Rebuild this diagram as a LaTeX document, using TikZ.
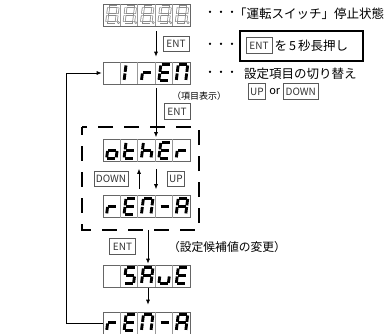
\documentclass[tikz,border=0pt]{standalone}
\usepackage{fontspec}
\setmainfont{Noto Sans CJK JP}
\usetikzlibrary{arrows.meta,positioning}

\tikzset{
  disp/.style={draw=black!60, line width=0.7pt, minimum width=87pt, minimum height=22pt, inner sep=0pt},
  cell/.style={draw=black!40, line width=0.5pt},
  seg/.style={line width=2.9pt, line cap=butt, shorten <=0.8pt, shorten >=0.8pt},
  key/.style={draw=black!65, line width=0.6pt, text=black!80, font=\fontsize{10}{10}\selectfont, inner xsep=2pt, inner ysep=0pt, minimum height=15.5pt},
  entw/.style={minimum width=26pt},
  arr/.style={-{Latex[length=5pt,width=4pt]}, line width=0.7pt},
  grp/.style={line width=2.6pt, dash pattern=on 15pt off 11pt, dash phase=7pt},
  hold/.style={draw, line width=2pt, minimum width=123pt, minimum height=30pt, inner sep=0pt},
  txt/.style={font=\fontsize{12.5}{13}\selectfont, inner sep=0pt},
  dots/.style={font=\fontsize{11}{11}\selectfont, inner sep=0pt},
  sg a/.style={insert path={(6,3) -- (15.5,3)}},
  sg b/.style={insert path={(15.5,3) -- (14.5,11)}},
  sg c/.style={insert path={(14.5,11) -- (13.5,19)}},
  sg d/.style={insert path={(4,19) -- (13.5,19)}},
  sg e/.style={insert path={(5,11) -- (4,19)}},
  sg f/.style={insert path={(6,3) -- (5,11)}},
  sg g/.style={insert path={(5,11) -- (14.5,11)}}
}

% Zeichen in Feld #2 der Anzeige #1
\newcommand\glyph[3]{\foreach \s in {#3}{\draw[seg, shift={(#1.north west)}, xshift={(#2-1)*17.4pt}, sg \s];}}

\begin{document}
\begin{tikzpicture}[x=1pt,y=-1pt]
\useasboundingbox (0,0) rectangle (387,333);

%Anzeigen
\node[disp] (top) at (146.5,15) {};
\node[disp] (ire) at (146.5,73) {};
\node[disp] (oth) at (146.5,150.5) {};
\node[disp] (rena) at (146.5,206.5) {};
\node[disp] (save) at (146.5,276) {};
\node[disp] (renb) at (146.5,323) {};

\foreach \d in {top,ire,oth,rena,save,renb}
  \foreach \i in {1,...,4}
    \draw[cell] ([xshift=\i*17.4pt]\d.north west) -- ([xshift=\i*17.4pt]\d.south west);

%leere Anzeige 8.8.8.8.8.
\foreach \i in {1,...,5}
{
  \foreach \s in {a,b,c,d,e,f,g}
    \draw[seg, draw=black!45, line width=2.8pt, shift={(top.north west)}, xshift={(\i-1)*17.4pt}, sg \s];
  \foreach \s in {a,b,c,d,e,f,g}
    \draw[seg, white, line width=1.3pt, shorten <=1.3pt, shorten >=1.3pt, shift={(top.north west)}, xshift={(\i-1)*17.4pt}, sg \s];
  \draw[black!45, line width=0.5pt, shift={(top.north west)}, xshift={(\i-1)*17.4pt}] (15.8,19) circle (1.1);
}

\glyph{ire}{2}{e,f}
\glyph{ire}{3}{e,g}
\glyph{ire}{4}{a,d,e,f,g}
\glyph{ire}{5}{a,b,c,e,f}

\glyph{oth}{1}{c,d,e,g}
\glyph{oth}{2}{d,e,f,g}
\glyph{oth}{3}{c,e,f,g}
\glyph{oth}{4}{a,d,e,f,g}
\glyph{oth}{5}{e,g}

\glyph{rena}{1}{e,g}
\glyph{rena}{2}{a,d,e,f,g}
\glyph{rena}{3}{a,b,c,e,f}
\glyph{rena}{4}{g}
\glyph{rena}{5}{a,b,c,e,f,g}

\glyph{save}{2}{a,c,d,f,g}
\glyph{save}{3}{a,b,c,e,f,g}
\glyph{save}{4}{c,d,e}
\glyph{save}{5}{a,d,e,f,g}

\glyph{renb}{1}{e,g}
\glyph{renb}{2}{a,d,e,f,g}
\glyph{renb}{3}{a,b,c,e,f}
\glyph{renb}{4}{g}
\glyph{renb}{5}{a,b,c,e,f,g}

%Gruppe
\draw[grp] (82,127) rectangle (199,230);

%Tasten und Beschriftung
\node[key, entw] (ent1) at (176,44) {ENT};
\node[key, entw] (ent2) at (177,111.5) {ENT};
\node[key] (dn1) at (111,179) {DOWN};
\node[key] (up1) at (176,179) {UP};
\node[key, entw] (ent3) at (122.5,246.5) {ENT};
\node[font=\fontsize{9}{10}\selectfont, inner sep=0pt] (lbl1) at (199,96) {（項目表示）};
\node[font=\fontsize{11.8}{12}\selectfont, inner sep=0pt] (lbl2) at (227,247) {（設定候補値の変更）};

%Pfeile
\draw[arr, shorten <=5pt, shorten >=5pt] ([xshift=9.5pt]top.south) -- ([xshift=9.5pt]ire.north);
\draw[arr, shorten <=4pt, shorten >=2pt] ([xshift=9.5pt]ire.south) -- ([xshift=9.5pt]oth.north);
\draw[arr, shorten <=7pt, shorten >=6pt] ([xshift=9.5pt]oth.south) -- ([xshift=9.5pt]rena.north);
\draw[arr, shorten <=6pt, shorten >=7pt] ([xshift=-7.5pt]rena.north) -- ([xshift=-7.5pt]oth.south);
\draw[arr, shorten <=12pt, shorten >=1pt] ([xshift=1.5pt]rena.south) -- ([xshift=1.5pt]save.north);
\draw[arr, shorten <=1pt, shorten >=7pt] ([xshift=1.5pt]save.south) -- ([xshift=1.5pt]renb.north);
\draw[arr, shorten >=1pt] (renb.west) -- ++(-36,0) |- (ire.west);

%Erklaerungen rechts
\node[dots] (dt1) at (221,14) {・・・};
\node[txt, anchor=west] (st1) at (234,14) {「運転スイッチ」停止状態};
\node[dots] (dt2) at (221,46) {・・・};
\node[hold] (hold) at (301.5,46) {};
\node[key, entw] (ent4) at (259,45.5) {ENT};
\node[txt, right=2pt of ent4] (st2) {を\,5\,秒長押し};
\node[dots] (dt3) at (221,74) {・・・};
\node[txt, anchor=west] (st3) at (244,74) {設定項目の切り替え};
\node[key] (up2) at (257,91.5) {UP};
\node[font=\fontsize{11}{11}\selectfont, inner sep=0pt, right=3pt of up2] (or) {or};
\node[key, right=3pt of or] (dn2) {DOWN};

\end{tikzpicture}
\end{document}
